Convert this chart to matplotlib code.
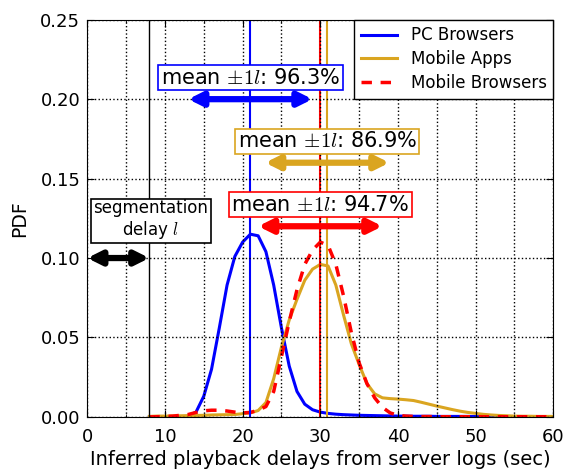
import numpy as np
import matplotlib
matplotlib.use("Agg")
import matplotlib.pyplot as plt
from matplotlib.ticker import MultipleLocator

plt.rcParams["mathtext.fontset"] = "cm"
plt.rcParams["font.family"] = "DejaVu Sans"

# Inferred playback delay (sec), 1-second bins
delay = list(range(8, 61))

pc_browsers = [0.0, 0.0, 0.0, 0.0, 0.0, 0.0005, 0.003, 0.013, 0.030, 0.056,
               0.083, 0.101, 0.110, 0.115, 0.114, 0.104, 0.083, 0.056, 0.032, 0.016,
               0.008, 0.0045, 0.003, 0.0022, 0.0017, 0.0014, 0.0012, 0.001, 0.0009, 0.0008,
               0.0007, 0.0006, 0.0005, 0.0005, 0.0004, 0.0004, 0.0004, 0.0003, 0.0003, 0.0003,
               0.0003, 0.0003, 0.0002, 0.0002, 0.0002, 0.0002, 0.0002, 0.0002, 0.0002, 0.0002,
               0.0002, 0.0002, 0.0002]

mobile_apps = [0.0003, 0.0005, 0.0005, 0.0006, 0.0007, 0.0008, 0.0009, 0.001, 0.0012, 0.0013,
               0.0014, 0.0015, 0.002, 0.0025, 0.004, 0.009, 0.024, 0.044, 0.061, 0.074,
               0.086, 0.093, 0.096, 0.095, 0.083, 0.064, 0.046, 0.033, 0.021, 0.0145,
               0.012, 0.0115, 0.0112, 0.0108, 0.0103, 0.0092, 0.0080, 0.0068, 0.0057, 0.0046,
               0.0036, 0.0028, 0.0022, 0.0016, 0.0012, 0.0009, 0.0007, 0.0005, 0.0004, 0.0004,
               0.0003, 0.0003, 0.0003]

mobile_browsers = [0.0, 0.0001, 0.0003, 0.0005, 0.001, 0.0015, 0.0028, 0.0038, 0.0042, 0.0042,
                   0.0037, 0.003, 0.0025, 0.0028, 0.0042, 0.0065, 0.016, 0.038, 0.060, 0.080,
                   0.096, 0.105, 0.110, 0.108, 0.096, 0.076, 0.053, 0.034, 0.021, 0.012,
                   0.006, 0.0025, 0.001, 0.0005, 0.0003, 0.0002, 0.0002, 0.0001, 0.0001, 0.0001,
                   0.0001, 0.0001, 0.0001, 0.0001, 0.0001, 0.0001, 0.0001, 0.0001, 0.0001, 0.0001,
                   0.0001, 0.0001, 0.0001]

series_names = ["PC Browsers", "Mobile Apps", "Mobile Browsers"]
series_colors = ["blue", "goldenrod", "red"]
series_means = [21.0, 30.9, 30.0]
within_one_l = ["96.3%", "86.9%", "94.7%"]
arrow_levels = [0.20, 0.16, 0.12]
segment_delay = 8.0

fig = plt.figure(figsize=(5.74, 4.70), dpi=100)
ax = fig.add_axes([0.152, 0.113, 0.812, 0.845])

ax.plot(delay, pc_browsers, color="blue", lw=2.2, label=series_names[0])
ax.plot(delay, mobile_apps, color="goldenrod", lw=2.2, label=series_names[1])
ax.plot(delay, mobile_browsers, color="red", lw=2.5, ls=(0, (3, 2.5)), label=series_names[2])

# segmentation delay and per-series mean markers
ax.axvline(segment_delay, color="black", lw=1)
for m, c in zip(series_means, series_colors):
    ax.axvline(m, color=c, lw=1.5)

# mean +/- l spans
for m, c, lvl, pct in zip(series_means, series_colors, arrow_levels, within_one_l):
    ax.annotate("", xy=(m - segment_delay, lvl), xytext=(m + segment_delay, lvl),
                arrowprops=dict(arrowstyle="<|-|>", color=c, lw=4.5, mutation_scale=20,
                                shrinkA=0, shrinkB=0), zorder=4)
    ax.text(m, lvl + 0.0135, r"mean $\pm 1l$: " + pct, ha="center", va="center",
            fontsize=15, zorder=6,
            bbox=dict(boxstyle="square,pad=0.12", fc="white", ec=c, lw=1.2))

ax.annotate("", xy=(0, 0.10), xytext=(segment_delay, 0.10),
            arrowprops=dict(arrowstyle="<|-|>", color="black", lw=4.5, mutation_scale=20,
                            shrinkA=0, shrinkB=0), zorder=4)
ax.text(segment_delay + 0.2, 0.124, "segmentation\ndelay $l$", ha="center", va="center",
        fontsize=12, linespacing=1.1, zorder=6,
        bbox=dict(boxstyle="square,pad=0.15", fc="white", ec="black", lw=1.2))

ax.set_xlim(0, 60)
ax.set_ylim(0, 0.25)
ax.xaxis.set_major_locator(MultipleLocator(10))
ax.xaxis.set_minor_locator(MultipleLocator(5))
ax.yaxis.set_major_locator(MultipleLocator(0.05))
ax.grid(True, which="both", axis="x", color="black", ls=":", lw=1)
ax.grid(True, which="major", axis="y", color="black", ls=":", lw=1)
ax.set_axisbelow(False)
ax.tick_params(which="both", direction="in", top=True, right=True, labelsize=13)
ax.tick_params(axis="x", pad=8)
ax.tick_params(axis="y", pad=5)
ax.tick_params(which="major", length=5)
ax.tick_params(which="minor", length=2.5)
ax.set_xlabel("Inferred playback delays from server logs (sec)", fontsize=14, labelpad=3)
ax.set_ylabel("PDF", fontsize=13.5, labelpad=8)

leg = ax.legend(loc="upper right", fontsize=12, borderaxespad=0, fancybox=False,
                framealpha=1, handlelength=2.2, labelspacing=0.35, borderpad=0.4)
leg.get_frame().set_edgecolor("black")
leg.set_zorder(7)

fig.savefig("out.png", dpi=100)
